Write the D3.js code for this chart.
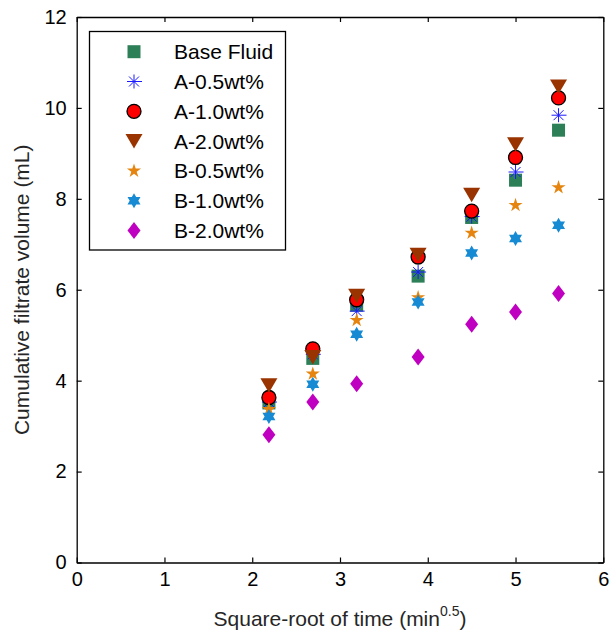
<!DOCTYPE html>
<html>
<head>
<meta charset="utf-8">
<script src="https://cdn.jsdelivr.net/npm/d3@7"></script>
<style>
  html, body { margin: 0; padding: 0; background: #fff; }
  svg { display: block; }
  text { font-family: "Liberation Sans", Arial, Helvetica, sans-serif; }
</style>
</head>
<body>
<svg id="chart" width="614" height="632"></svg>
<script>
// Square-root of elapsed time (min^0.5) at each reading
const sqrtTime = [2.19, 2.69, 3.19, 3.89, 4.50, 5.00, 5.49];

// Cumulative filtrate volume (mL) for each fluid
const baseFluid = [3.51, 4.49, 5.66, 6.30, 7.59, 8.41, 9.51];
const a05 = [3.53, 4.58, 5.53, 6.39, 7.61, 8.59, 9.84];
const a10 = [3.63, 4.70, 5.78, 6.72, 7.73, 8.91, 10.22];
const a20 = [3.90, 4.52, 5.87, 6.77, 8.09, 9.20, 10.47];
const b05 = [3.37, 4.15, 5.33, 5.83, 7.25, 7.86, 8.25];
const b10 = [3.21, 3.92, 5.02, 5.73, 6.81, 7.13, 7.42];
const b20 = [2.81, 3.53, 3.93, 4.52, 5.24, 5.51, 5.92];

const seriesNames = ["Base Fluid", "A-0.5wt%", "A-1.0wt%", "A-2.0wt%", "B-0.5wt%", "B-1.0wt%", "B-2.0wt%"];
const seriesValues = [baseFluid, a05, a10, a20, b05, b10, b20];

const xTicks = [0, 1, 2, 3, 4, 5, 6];
const yTicks = [0, 2, 4, 6, 8, 10, 12];

// ---- marker shapes (d3 symbol types) ----
const squareSym = { draw(ctx) { const h = 6.5; ctx.rect(-h, -h, 2 * h, 2 * h); } };
const circleSym = { draw(ctx) { ctx.moveTo(7, 0); ctx.arc(0, 0, 7, 0, 2 * Math.PI); } };
const triDownSym = { draw(ctx) { ctx.moveTo(-8.5, -7); ctx.lineTo(8.5, -7); ctx.lineTo(0, 7.5); ctx.closePath(); } };
const diamondSym = { draw(ctx) { ctx.moveTo(0, -8.5); ctx.lineTo(6.5, 0); ctx.lineTo(0, 8.5); ctx.lineTo(-6.5, 0); ctx.closePath(); } };
const hexagramSym = {
  draw(ctx) {
    const r = 7.5;
    for (let k = 0; k < 2; k++) {
      for (let i = 0; i < 3; i++) {
        const a = -Math.PI / 2 + k * Math.PI + i * 2 * Math.PI / 3;
        const px = r * Math.cos(a), py = r * Math.sin(a);
        if (i === 0) ctx.moveTo(px, py); else ctx.lineTo(px, py);
      }
      ctx.closePath();
    }
  }
};
const asteriskSym = {
  draw(ctx) {
    const r = 7, d = 5;
    ctx.moveTo(-r, 0); ctx.lineTo(r + 1, 0);
    ctx.moveTo(0, -r); ctx.lineTo(0, r);
    ctx.moveTo(-d, -d); ctx.lineTo(d, d);
    ctx.moveTo(-d, d); ctx.lineTo(d, -d);
  }
};

const styles = [
  { type: squareSym, fill: "#2d7f58", stroke: "none", sw: 0 },
  { type: asteriskSym, fill: "none", stroke: "#1a1aff", sw: 1.0 },
  { type: circleSym, fill: "#ff0000", stroke: "#000", sw: 1.3 },
  { type: triDownSym, fill: "#993300", stroke: "none", sw: 0 },
  { type: d3.symbolStar, size: 62, fill: "#e5850f", stroke: "none", sw: 0 },
  { type: hexagramSym, fill: "#168ad2", stroke: "none", sw: 0 },
  { type: diamondSym, fill: "#c000c0", stroke: "none", sw: 0 }
];

const svg = d3.select("#chart");
const plot = { left: 76.7, right: 603.3, top: 17, bottom: 562.5 };

const x = d3.scaleLinear().domain([0, 6]).range([plot.left, plot.right]);
const y = d3.scaleLinear().domain([0, 12]).range([plot.bottom, plot.top]);

const tickLen = 5;
const fontSize = 20;

// axes with inward ticks on all four sides
const axBottom = d3.axisBottom(x).tickValues(xTicks).tickFormat(d3.format("d"))
  .tickSizeInner(-tickLen).tickSizeOuter(0).tickPadding(9);
const axLeft = d3.axisLeft(y).tickValues(yTicks).tickFormat(d3.format("d"))
  .tickSizeInner(-tickLen).tickSizeOuter(0).tickPadding(10);
const axTop = d3.axisTop(x).tickValues(xTicks).tickSizeInner(-tickLen).tickSizeOuter(0).tickFormat("");
const axRight = d3.axisRight(y).tickValues(yTicks).tickSizeInner(-tickLen).tickSizeOuter(0).tickFormat("");

function styleAxis(g) {
  g.select(".domain").attr("stroke", "#000").attr("stroke-width", 1.3);
  g.selectAll(".tick line").attr("stroke", "#000").attr("stroke-width", 1.2);
  g.selectAll(".tick text").attr("fill", "#000").attr("font-size", fontSize)
    .attr("font-family", '"Liberation Sans", Arial, sans-serif');
}

svg.append("g").attr("transform", `translate(0,${plot.bottom})`).call(axBottom).call(styleAxis);
svg.append("g").attr("transform", `translate(${plot.left},0)`).call(axLeft).call(styleAxis);
svg.append("g").attr("transform", `translate(0,${plot.top})`).call(axTop).call(styleAxis);
svg.append("g").attr("transform", `translate(${plot.right},0)`).call(axRight).call(styleAxis);

// data markers
seriesValues.forEach((vals, si) => {
  const st = styles[si];
  const sym = d3.symbol().type(st.type).size(st.size || 64);
  svg.append("g").selectAll("path")
    .data(vals.map((v, i) => ({ x: sqrtTime[i], y: v })))
    .join("path")
    .attr("d", sym)
    .attr("transform", d => `translate(${x(d.x)},${y(d.y)})`)
    .attr("fill", st.fill)
    .attr("stroke", st.stroke)
    .attr("stroke-width", st.sw);
});

// legend
const legend = svg.append("g");
const lg = { x: 89.5, y: 31.5, w: 196, h: 218.5, row0: 51.7, step: 29.8, mx: 134, tx: 174 };
legend.append("rect")
  .attr("x", lg.x).attr("y", lg.y).attr("width", lg.w).attr("height", lg.h)
  .attr("fill", "#fff").attr("stroke", "#000").attr("stroke-width", 1.3);
seriesNames.forEach((name, i) => {
  const st = styles[i];
  const cy = lg.row0 + i * lg.step;
  legend.append("path")
    .attr("d", d3.symbol().type(st.type).size(st.size || 64)())
    .attr("transform", `translate(${lg.mx},${cy})`)
    .attr("fill", st.fill).attr("stroke", st.stroke).attr("stroke-width", st.sw);
  legend.append("text")
    .attr("x", lg.tx).attr("y", cy).attr("dy", "0.36em")
    .attr("font-size", 21).attr("fill", "#000")
    .text(name);
});

// axis titles
const xt = svg.append("text")
  .attr("x", (plot.left + plot.right) / 2).attr("y", 626)
  .attr("text-anchor", "middle").attr("font-size", 21).attr("fill", "#262626");
xt.append("tspan").text("Square-root of time (min");
xt.append("tspan").attr("font-size", 14).attr("dy", -10).text("0.5");
xt.append("tspan").attr("dy", 10).text(")");

svg.append("text")
  .attr("transform", `translate(29,${(plot.top + plot.bottom) / 2}) rotate(-90)`)
  .attr("text-anchor", "middle").attr("font-size", 21).attr("fill", "#262626")
  .text("Cumulative filtrate volume (mL)");
</script>
</body>
</html>
